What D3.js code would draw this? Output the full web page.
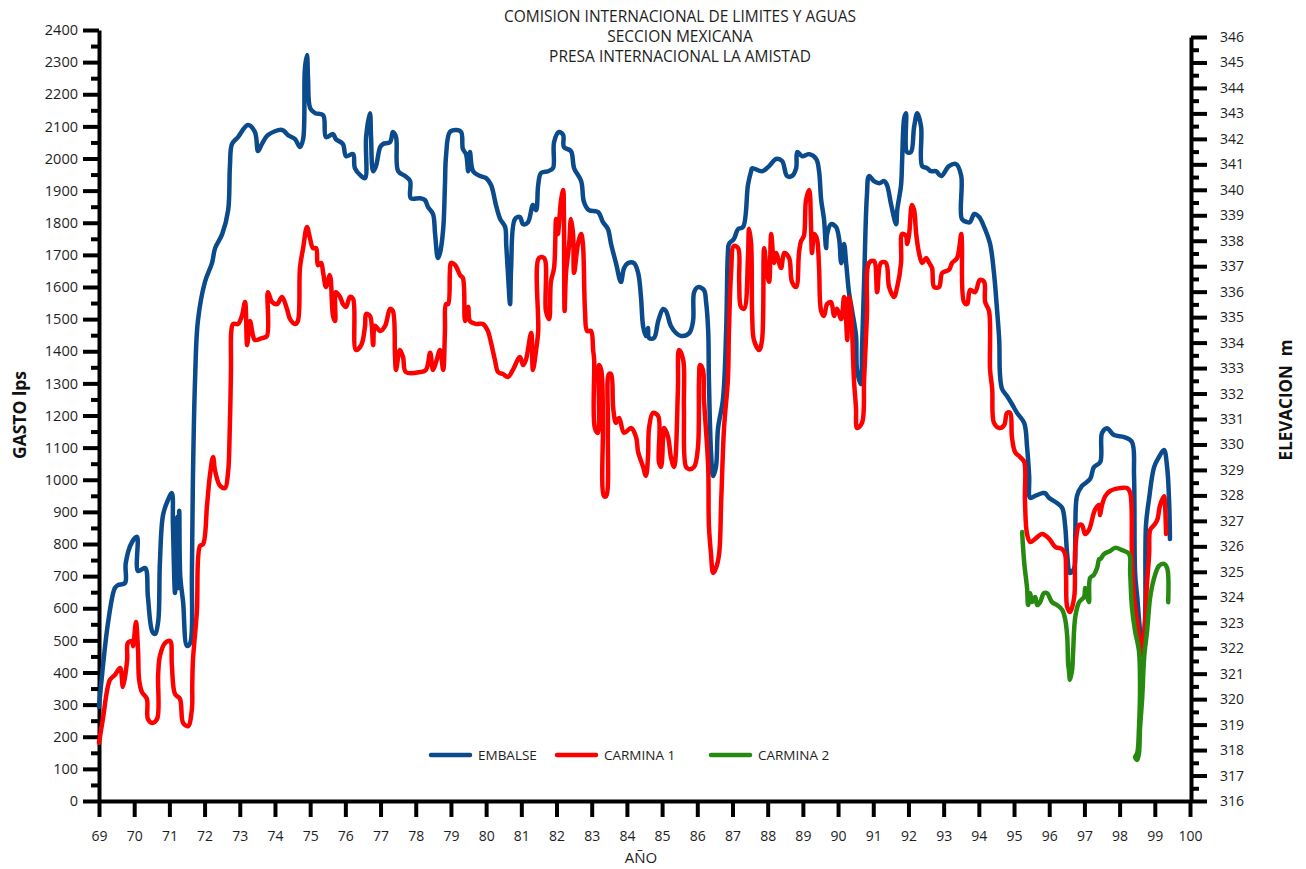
<!DOCTYPE html>
<html>
<head>
<meta charset="utf-8">
<script src="https://cdn.jsdelivr.net/npm/d3@7"></script>
<style>
  body { margin: 0; background: #fff; }
  svg { display: block; font-family: "Open Sans", "Noto Sans", sans-serif; }
</style>
</head>
<body>
<svg id="chart" width="1306" height="869"></svg>
<script>
// ---- Data -------------------------------------------------------------
// Year axis (two-digit years, 1969-2000)
const yearTicks = [69,70,71,72,73,74,75,76,77,78,79,80,81,82,83,84,85,86,87,88,89,90,91,92,93,94,95,96,97,98,99,100];
// Flow axis (lps)
const gastoTicks = [0,100,200,300,400,500,600,700,800,900,1000,1100,1200,1300,1400,1500,1600,1700,1800,1900,2000,2100,2200,2300,2400];
// Elevation axis (m)
const elevTicks = [316,317,318,319,320,321,322,323,324,325,326,327,328,329,330,331,332,333,334,335,336,337,338,339,340,341,342,343,344,345,346];

const seriesNames = ["EMBALSE", "CARMINA 1", "CARMINA 2"];

// Reservoir level, [year, elevation m]
const embalse = [
  [69.00,319.70],[69.26,323.03],[69.45,324.36],[69.54,324.48],[69.74,324.56],[69.76,325.34],[69.94,326.17],
  [70.08,326.37],[70.11,325.03],[70.31,325.15],[70.39,324.01],[70.51,322.67],[70.59,322.56],[70.68,323.03],
  [70.73,325.34],[70.82,327.23],[70.96,327.82],[71.07,328.09],[71.10,326.84],[71.16,324.17],[71.22,327.15],
  [71.24,324.36],[71.28,327.40],[71.31,324.80],[71.39,323.81],[71.50,322.09],[71.59,322.20],[71.64,324.95],
  [71.67,328.76],[71.73,332.57],[71.81,334.85],[72.01,336.38],[72.21,337.12],[72.30,337.71],[72.50,338.26],
  [72.67,339.20],[72.72,340.93],[72.78,341.80],[72.95,342.07],[73.23,342.54],[73.43,342.27],[73.52,341.52],
  [73.63,341.80],[73.80,342.15],[74.20,342.35],[74.37,342.15],[74.57,341.99],[74.71,341.68],[74.80,341.99],
  [74.85,344.74],[74.91,345.29],[74.94,344.35],[75.00,343.21],[75.14,343.01],[75.37,342.93],[75.45,342.07],
  [75.65,342.19],[75.73,341.99],[75.93,341.80],[76.02,341.32],[76.22,341.40],[76.27,340.85],[76.45,340.54],
  [76.56,340.46],[76.59,342.07],[76.70,343.01],[76.73,342.07],[76.79,340.73],[76.87,340.93],[76.99,341.68],
  [77.07,341.80],[77.27,341.87],[77.35,342.27],[77.44,342.07],[77.50,340.73],[77.70,340.54],[77.84,340.34],
  [77.86,339.67],[78.12,339.67],[78.26,339.60],[78.35,339.32],[78.49,339.05],[78.55,338.26],[78.63,337.32],
  [78.69,337.52],[78.78,338.46],[78.83,340.19],[78.86,341.32],[78.97,342.27],[79.15,342.35],[79.29,342.27],
  [79.34,341.60],[79.43,341.40],[79.49,340.73],[79.54,341.48],[79.63,340.73],[79.83,340.54],[80.00,340.46],
  [80.14,340.19],[80.28,339.40],[80.40,338.85],[80.54,338.54],[80.57,337.87],[80.62,336.73],[80.68,335.51],
  [80.71,336.93],[80.82,338.85],[80.96,338.93],[81.05,338.65],[81.19,338.73],[81.33,339.40],[81.42,339.20],
  [81.48,340.19],[81.56,340.66],[81.76,340.73],[81.90,340.85],[81.93,341.87],[82.07,342.27],[82.19,342.15],
  [82.21,341.68],[82.41,341.52],[82.50,340.85],[82.70,340.34],[82.78,339.52],[82.92,339.20],[83.18,339.13],
  [83.32,338.73],[83.46,338.46],[83.55,337.87],[83.69,337.12],[83.83,336.38],[83.92,336.93],[84.03,337.12],
  [84.20,337.12],[84.32,336.73],[84.40,335.79],[84.46,334.65],[84.54,334.26],[84.60,334.57],[84.63,334.18],
  [84.77,334.18],[84.89,334.85],[85.03,335.32],[85.11,335.24],[85.25,334.65],[85.40,334.37],[85.54,334.26],
  [85.77,334.37],[85.88,334.85],[85.91,335.98],[86.02,336.18],[86.19,336.06],[86.25,335.59],[86.31,334.45],
  [86.33,332.57],[86.39,329.70],[86.45,328.76],[86.53,329.11],[86.59,330.64],[86.73,331.78],[86.82,334.45],
  [86.87,337.52],[86.90,337.87],[87.04,338.07],[87.16,338.46],[87.30,338.54],[87.44,340.19],[87.53,340.73],
  [87.56,340.85],[87.84,340.73],[88.04,340.93],[88.24,341.21],[88.41,341.13],[88.55,340.54],[88.69,340.54],
  [88.81,340.85],[88.84,341.48],[88.98,341.32],[89.18,341.40],[89.38,341.21],[89.46,340.73],[89.52,339.60],
  [89.60,338.85],[89.66,337.71],[89.69,338.26],[89.80,338.65],[89.94,338.54],[90.03,338.07],[90.09,337.12],
  [90.17,337.87],[90.23,337.12],[90.31,335.98],[90.40,335.24],[90.51,334.26],[90.54,332.92],[90.65,332.37],
  [90.68,333.71],[90.74,336.38],[90.82,339.79],[90.88,340.54],[91.02,340.34],[91.17,340.26],[91.31,340.34],
  [91.39,340.19],[91.51,339.40],[91.65,338.65],[91.68,339.20],[91.79,340.19],[91.82,341.13],[91.88,342.82],
  [91.93,343.01],[91.96,341.48],[92.07,341.48],[92.16,342.46],[92.25,343.01],[92.36,342.46],[92.39,340.93],
  [92.53,340.85],[92.64,340.73],[92.78,340.73],[92.93,340.54],[93.15,340.93],[93.35,341.01],[93.50,340.54],
  [93.52,338.85],[93.67,338.73],[93.75,338.73],[93.87,339.05],[94.01,338.93],[94.15,338.54],[94.32,337.87],
  [94.43,336.73],[94.52,335.24],[94.58,334.06],[94.60,332.76],[94.66,332.18],[94.80,331.90],[94.94,331.59],
  [95.09,331.23],[95.29,330.84],[95.37,329.90],[95.43,328.76],[95.46,327.90],[95.60,327.98],[95.80,328.09],
  [95.88,328.09],[96.00,327.90],[96.22,327.70],[96.37,327.50],[96.45,326.84],[96.51,325.70],[96.59,324.95],
  [96.71,325.15],[96.74,326.48],[96.79,327.98],[96.93,328.37],[97.16,328.64],[97.27,329.11],[97.45,329.31],
  [97.50,330.45],[97.64,330.64],[97.84,330.37],[98.13,330.29],[98.35,330.10],[98.41,328.76],[98.44,324.95],
  [98.50,324.01],[98.58,322.67],[98.64,321.89],[98.72,323.03],[98.75,326.84],[98.84,327.90],[98.98,329.11],
  [99.12,329.51],[99.26,329.78],[99.35,329.11],[99.41,327.62],[99.43,326.29]
];

// Flow at Carmina 1, [year, lps]
const carmina1 = [
  [69.00,181],[69.11,255],[69.31,377],[69.45,392],[69.60,414],[69.68,355],[69.80,439],[69.82,492],[69.94,498],
  [69.97,482],[70.05,557],[70.11,467],[70.14,377],[70.22,339],[70.36,318],[70.39,255],[70.51,243],[70.65,255],
  [70.68,392],[70.73,451],[70.88,492],[71.02,498],[71.07,423],[71.16,333],[71.30,318],[71.39,243],[71.53,233],
  [71.64,286],[71.65,361],[71.67,439],[71.78,588],[71.87,794],[71.96,800],[72.07,921],[72.15,1012],[72.24,1071],
  [72.30,1027],[72.44,981],[72.58,974],[72.67,1027],[72.71,1133],[72.75,1342],[72.76,1463],[72.81,1485],
  [72.95,1485],[73.06,1510],[73.15,1553],[73.21,1419],[73.29,1494],[73.38,1447],[73.43,1435],[73.63,1441],
  [73.77,1447],[73.80,1584],[73.92,1553],[74.06,1547],[74.20,1569],[74.34,1532],[74.43,1500],[74.57,1485],
  [74.65,1494],[74.71,1659],[74.80,1721],[74.91,1787],[75.00,1749],[75.08,1721],[75.17,1721],[75.22,1668],
  [75.31,1675],[75.37,1644],[75.45,1600],[75.56,1637],[75.65,1510],[75.71,1494],[75.73,1584],[75.85,1569],
  [75.93,1547],[76.02,1538],[76.13,1569],[76.22,1563],[76.30,1404],[76.45,1419],[76.56,1479],[76.59,1516],
  [76.70,1510],[76.79,1419],[76.84,1479],[76.99,1463],[77.13,1479],[77.27,1532],[77.35,1525],[77.41,1388],
  [77.44,1342],[77.55,1404],[77.64,1382],[77.72,1335],[78.12,1335],[78.29,1342],[78.41,1395],[78.49,1342],
  [78.58,1367],[78.69,1404],[78.78,1342],[78.83,1463],[78.86,1547],[78.92,1547],[78.97,1644],[79.00,1675],
  [79.12,1668],[79.26,1637],[79.34,1628],[79.40,1494],[79.49,1538],[79.54,1494],[79.71,1485],[79.91,1485],
  [80.05,1463],[80.14,1426],[80.25,1373],[80.34,1335],[80.48,1329],[80.62,1320],[80.76,1342],[80.96,1382],
  [81.05,1357],[81.13,1373],[81.28,1457],[81.33,1342],[81.42,1404],[81.48,1463],[81.50,1690],[81.65,1690],
  [81.70,1525],[81.79,1500],[81.84,1616],[81.93,1659],[81.99,1812],[82.04,1765],[82.07,1796],[82.13,1871],
  [82.19,1902],[82.21,1827],[82.23,1525],[82.27,1644],[82.36,1734],[82.41,1812],[82.47,1765],[82.50,1644],
  [82.61,1734],[82.70,1765],[82.75,1734],[82.81,1525],[82.87,1463],[82.98,1463],[83.04,1404],[83.07,1373],
  [83.09,1161],[83.18,1146],[83.21,1357],[83.27,1342],[83.32,1192],[83.35,949],[83.41,949],[83.46,1161],
  [83.49,1329],[83.55,1329],[83.61,1223],[83.69,1177],[83.78,1192],[83.92,1146],[84.12,1161],[84.26,1133],
  [84.32,1086],[84.46,1040],[84.54,1012],[84.60,1071],[84.63,1161],[84.74,1208],[84.89,1198],[84.91,1055],
  [84.97,1040],[85.03,1133],[85.06,1161],[85.17,1133],[85.25,1071],[85.34,1040],[85.45,1282],[85.48,1404],
  [85.60,1373],[85.62,1223],[85.68,1040],[85.77,1033],[85.91,1040],[86.02,1102],[86.05,1314],[86.08,1357],
  [86.16,1342],[86.19,1251],[86.31,1040],[86.33,859],[86.39,769],[86.45,710],[86.53,725],[86.62,769],
  [86.68,937],[86.76,1161],[86.87,1314],[86.90,1463],[86.96,1644],[87.04,1728],[87.16,1721],[87.19,1616],
  [87.24,1538],[87.33,1532],[87.44,1690],[87.47,1781],[87.53,1734],[87.56,1510],[87.61,1435],[87.76,1404],
  [87.84,1435],[87.90,1721],[87.98,1644],[88.04,1616],[88.10,1765],[88.18,1675],[88.24,1706],[88.38,1659],
  [88.47,1706],[88.61,1690],[88.69,1616],[88.81,1600],[88.89,1706],[88.95,1743],[89.03,1759],[89.09,1871],
  [89.18,1902],[89.23,1796],[89.26,1706],[89.32,1765],[89.40,1749],[89.46,1659],[89.52,1525],[89.60,1510],
  [89.69,1547],[89.80,1553],[89.89,1510],[89.97,1532],[90.09,1500],[90.17,1569],[90.23,1494],[90.26,1435],
  [90.31,1569],[90.37,1525],[90.45,1314],[90.51,1223],[90.54,1161],[90.68,1177],[90.74,1314],[90.82,1510],
  [90.88,1675],[91.02,1681],[91.11,1584],[91.22,1675],[91.36,1675],[91.45,1600],[91.59,1569],[91.68,1600],
  [91.79,1675],[91.82,1765],[91.93,1759],[91.96,1734],[92.02,1765],[92.10,1855],[92.16,1840],[92.22,1765],
  [92.30,1706],[92.39,1675],[92.50,1690],[92.59,1675],[92.67,1659],[92.73,1600],[92.87,1600],[92.96,1644],
  [93.15,1653],[93.24,1675],[93.38,1690],[93.50,1765],[93.52,1734],[93.58,1553],[93.67,1547],[93.75,1591],
  [93.89,1584],[94.03,1622],[94.15,1616],[94.18,1553],[94.29,1525],[94.32,1342],[94.38,1282],[94.43,1177],
  [94.58,1161],[94.72,1170],[94.80,1208],[94.89,1208],[94.94,1133],[95.03,1086],[95.17,1071],[95.29,1055],
  [95.31,937],[95.37,831],[95.46,806],[95.60,816],[95.80,831],[96.00,816],[96.17,791],[96.37,784],[96.45,769],
  [96.48,694],[96.51,604],[96.59,588],[96.71,635],[96.74,784],[96.85,859],[96.93,859],[97.02,831],[97.13,844],
  [97.30,906],[97.42,921],[97.44,890],[97.50,921],[97.59,949],[97.73,965],[98.01,974],[98.21,974],[98.30,959],
  [98.35,769],[98.41,635],[98.50,557],[98.58,498],[98.64,454],[98.70,514],[98.78,679],[98.84,769],[98.87,844],
  [98.98,859],[99.07,875],[99.15,921],[99.26,949],[99.29,921],[99.32,831]
];

// Flow at Carmina 2, [year, lps]
const carmina2 = [
  [95.23,837],[95.29,741],[95.37,663],[95.40,610],[95.46,647],[95.51,619],[95.60,635],[95.66,610],[95.74,619],
  [95.85,647],[95.94,647],[96.08,619],[96.22,610],[96.37,595],[96.45,567],[96.51,514],[96.54,423],[96.56,408],
  [96.59,377],[96.65,408],[96.68,467],[96.74,573],[96.85,619],[96.99,635],[97.02,663],[97.08,635],[97.13,619],
  [97.16,694],[97.27,704],[97.36,725],[97.42,753],[97.45,753],[97.56,769],[97.73,778],[97.87,788],[98.07,781],
  [98.27,769],[98.30,710],[98.35,604],[98.44,529],[98.55,467],[98.58,361],[98.55,227],[98.50,149],[98.44,137],
  [98.50,128],[98.55,149],[98.58,227],[98.64,318],[98.70,451],[98.78,529],[98.87,635],[98.98,694],[99.12,732],
  [99.26,738],[99.35,725],[99.38,619]
];

const seriesColors = ["#0b4a8b", "#ff0000", "#278a10"];

// ---- Layout -----------------------------------------------------------
const svg = d3.select("#chart");
const x = d3.scaleLinear().domain([69, 100]).range([99, 1190]);
const yGasto = d3.scaleLinear().domain([0, 2400]).range([801, 30]);
const yElev = d3.scaleLinear().domain([316, 346]).range([801, 37]);

const FONT = '"Open Sans", "Noto Sans", sans-serif';

function styleAxis(g, fontSize) {
  g.attr("font-family", FONT).attr("font-size", fontSize);
  g.select(".domain").attr("stroke", "#000").attr("stroke-width", 4);
  g.selectAll(".tick line").attr("stroke", "#000").attr("stroke-width", 4);
  g.selectAll(".tick text").attr("fill", "#1e1e1e");
}

// Left axis: major ticks every 100 lps, minor every 50
const leftMinor = svg.append("g").attr("transform", "translate(99,0)")
  .call(d3.axisLeft(yGasto).tickValues(gastoTicks.slice(0, -1).map(v => v + 50)).tickSize(8).tickFormat(""));
leftMinor.select(".domain").remove();
leftMinor.selectAll(".tick line").attr("stroke", "#000").attr("stroke-width", 4);

const leftAxis = svg.append("g").attr("transform", "translate(99,0)")
  .call(d3.axisLeft(yGasto).tickValues(gastoTicks).tickSize(16).tickSizeOuter(0).tickPadding(5).tickFormat(d3.format("d")));
styleAxis(leftAxis, 14.5);

// Right axis: major ticks every metre, minor every half metre
const rightMinor = svg.append("g").attr("transform", "translate(1191,0)")
  .call(d3.axisRight(yElev).tickValues(elevTicks.slice(0, -1).map(v => v + 0.5)).tickSize(8).tickFormat(""));
rightMinor.select(".domain").remove();
rightMinor.selectAll(".tick line").attr("stroke", "#000").attr("stroke-width", 4);

const rightAxis = svg.append("g").attr("transform", "translate(1191,0)")
  .call(d3.axisRight(yElev).tickValues(elevTicks).tickSize(16).tickSizeOuter(0).tickPadding(13).tickFormat(d3.format("d")));
styleAxis(rightAxis, 14);

// Bottom axis: one tick per year
const bottomAxis = svg.append("g").attr("transform", "translate(0,801)")
  .call(d3.axisBottom(x).tickValues(yearTicks).tickSize(16).tickSizeOuter(0).tickPadding(14).tickFormat(d3.format("d")));
styleAxis(bottomAxis, 14);

// ---- Series -----------------------------------------------------------
const curve = d3.curveCatmullRom.alpha(0.5);
const elevLine = d3.line().x(d => x(d[0])).y(d => yElev(d[1])).curve(curve);
const gastoLine = d3.line().x(d => x(d[0])).y(d => yGasto(d[1])).curve(curve);

const plot = svg.append("g").attr("fill", "none").attr("stroke-width", 4.5)
  .attr("stroke-linejoin", "round").attr("stroke-linecap", "round");
plot.append("path").attr("d", elevLine(embalse)).attr("stroke", seriesColors[0]);
plot.append("path").attr("d", gastoLine(carmina1)).attr("stroke", seriesColors[1]);
plot.append("path").attr("d", gastoLine(carmina2)).attr("stroke", seriesColors[2]);

// ---- Titles -----------------------------------------------------------
const titleLines = ["COMISION INTERNACIONAL DE LIMITES Y AGUAS", "SECCION MEXICANA", "PRESA INTERNACIONAL LA AMISTAD"];
svg.append("g").attr("font-family", FONT).attr("font-size", 15.5).attr("fill", "#1e1e1e").attr("text-anchor", "middle")
  .selectAll("text").data(titleLines).join("text")
  .attr("x", 680).attr("y", (d, i) => 22 + i * 20).text(d => d);

svg.append("text").attr("transform", "translate(26,415) rotate(-90)")
  .attr("text-anchor", "middle").attr("font-family", FONT).attr("font-size", 17.5).attr("font-weight", "bold")
  .attr("fill", "#111").text("GASTO lps");

svg.append("text").attr("transform", "translate(1292,400) rotate(-90)")
  .attr("text-anchor", "middle").attr("font-family", FONT).attr("font-size", 17).attr("font-weight", "bold")
  .attr("fill", "#111").style("white-space", "pre").text("ELEVACION  m");

svg.append("text").attr("x", 641).attr("y", 863).attr("text-anchor", "middle")
  .attr("font-family", FONT).attr("font-size", 15).attr("fill", "#1e1e1e").text("AÑO");

// ---- Legend -----------------------------------------------------------
const legendX = [431, 557, 711];
const legend = svg.append("g").attr("font-family", FONT).attr("font-size", 13.5).attr("fill", "#1e1e1e");
seriesNames.forEach((name, i) => {
  legend.append("line").attr("x1", legendX[i]).attr("x2", legendX[i] + 39).attr("y1", 755).attr("y2", 755)
    .attr("stroke", seriesColors[i]).attr("stroke-width", 4.5).attr("stroke-linecap", "round");
  legend.append("text").attr("x", legendX[i] + 47).attr("y", 760).text(name);
});
</script>
</body>
</html>
